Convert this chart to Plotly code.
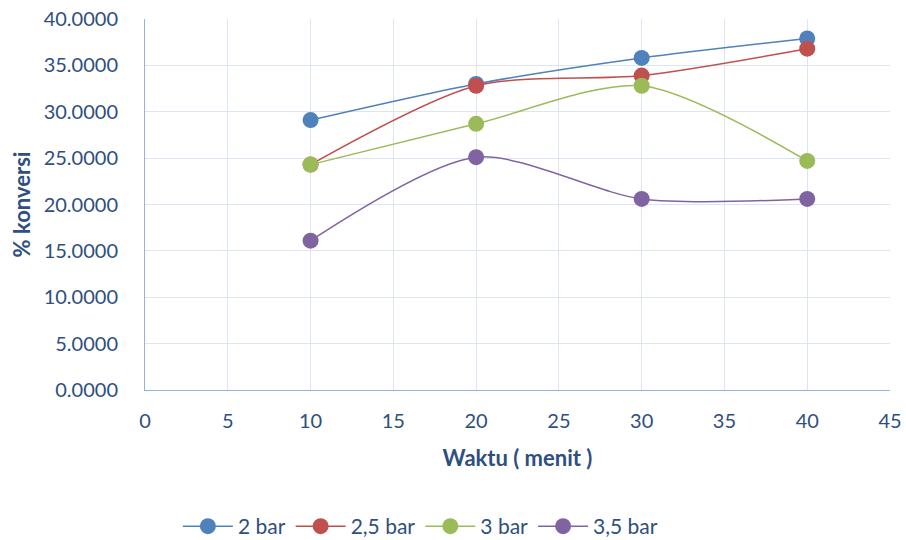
import plotly.graph_objects as go

# Reaction time (minutes) and conversion (%) per pressure
waktu = [10, 20, 30, 40]
series_names = ["2 bar", "2,5 bar", "3 bar", "3,5 bar"]
konversi_2 = [29.1, 33.0, 35.8, 37.9]
konversi_25 = [24.3, 32.8, 33.9, 36.8]
konversi_3 = [24.3, 28.7, 32.8, 24.7]
konversi_35 = [16.1, 25.1, 20.6, 20.6]
colors = ["#4F81BD", "#C0504D", "#9BBB59", "#8064A2"]

text_color = "#2E4F7F"
grid_color = "#DCE6F2"
axis_color = "#95B3D7"
font_family = "Lato, 'Open Sans', sans-serif"

fig = go.Figure()
for name, ys, col in zip(series_names, [konversi_2, konversi_25, konversi_3, konversi_35], colors):
    fig.add_trace(go.Scatter(
        x=waktu, y=ys, name=name, mode="lines+markers",
        line=dict(color=col, width=1.5, shape="spline", smoothing=0.8),
        marker=dict(color=col, size=16),
    ))

fig.update_layout(
    width=906, height=540,
    margin=dict(l=145, r=16, t=19, b=150),
    paper_bgcolor="white", plot_bgcolor="white",
    font=dict(family=font_family, color=text_color, size=20),
    showlegend=True,
    legend=dict(orientation="h", x=0.464, xanchor="center", xref="container",
                y=0.025, yanchor="middle", yref="container",
                font=dict(size=21, color=text_color), itemwidth=50),
    xaxis=dict(
        range=[0, 45], tickmode="linear", tick0=0, dtick=5,
        showgrid=True, gridcolor=grid_color, gridwidth=1,
        showline=True, linecolor=axis_color, linewidth=1,
        ticks="outside", ticklen=13, tickcolor="rgba(0,0,0,0)",
        zeroline=False, automargin=False,
        title=dict(text="<b>Waktu ( menit )</b>", font=dict(size=22, color=text_color), standoff=19),
    ),
    yaxis=dict(
        range=[0, 40], tickmode="linear", tick0=0, dtick=5,
        tickformat=".4f",
        showgrid=True, gridcolor=grid_color, gridwidth=1,
        showline=True, linecolor=axis_color, linewidth=1,
        ticks="outside", ticklen=22, tickcolor="rgba(0,0,0,0)",
        zeroline=False, automargin=False,
        title=dict(text="<b>% konversi</b>", font=dict(size=22, color=text_color), standoff=6),
    ),
)

fig.write_html("out.html")
